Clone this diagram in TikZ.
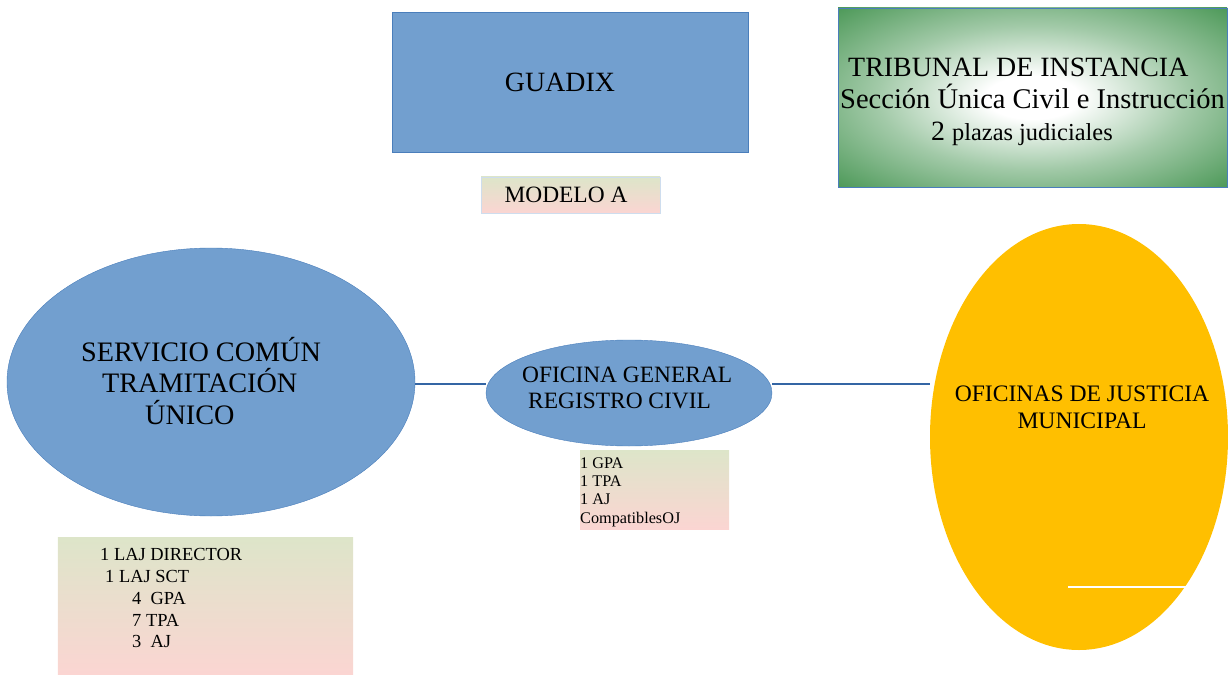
\documentclass[tikz,border=0pt]{standalone}
\usepackage{fontspec}
\setmainfont{Liberation Serif}
\usetikzlibrary{shapes.geometric}

\definecolor{azul}{HTML}{729FCF}
\definecolor{azulborde}{HTML}{4A7EBB}
\definecolor{linea}{HTML}{3465A4}
\definecolor{ambar}{HTML}{FFBF00}
\definecolor{verde}{HTML}{177A26}
\definecolor{verdoso}{HTML}{DDE5C9}
\definecolor{rosa}{HTML}{FBD5D2}

\pgfdeclareradialshading{tribunal}{\pgfpoint{0bp}{0bp}}{color(0bp)=(white); color(6bp)=(white); color(20bp)=(verde!40!white); color(36bp)=(verde!78!white); color(50bp)=(verde)}

\tikzset{
  caja/.style={draw=azulborde, fill=azul, minimum width=356bp, minimum height=140bp},
  nota/.style={top color=verdoso, bottom color=rosa},
  ovalo/.style={ellipse, draw=azulborde, fill=azul, inner sep=0pt},
  enlace/.style={draw=linea, line width=2bp},
  lista/.style={anchor=north west, inner sep=0pt, align=left}
}

\begin{document}
\begin{tikzpicture}[x=1bp,y=-1bp]

  \useasboundingbox (0,0) rectangle (1228,675);

  % cabecera
  \node[caja, font=\fontsize{28}{32}\selectfont] (guadix) at (570,82) {GUADIX\hspace*{20bp}};
  \node[nota, draw=azul!35, line width=0.6bp, minimum width=179bp, minimum height=36bp,
        font=\fontsize{23.5}{26}\selectfont] (modelo) at (570.5,195) {MODELO A\hspace*{9bp}};
  \node[shading=tribunal, draw=azulborde, line width=0.8bp,
        minimum width=389bp, minimum height=179bp] (tribunal) at (1032.5,97.5) {};
  \node[lista, font=\fontsize{28}{32.5}\selectfont] (tribunaltexto) at (840,57.5)
    {\hspace*{8bp}TRIBUNAL DE INSTANCIA\\
     {\fontsize{28.6}{33}\selectfont Sección Única Civil e Instrucción}\\
     \hspace*{91bp}2 {\fontsize{24.5}{33}\selectfont plazas judiciales}};

  % oficinas
  \node[ovalo, minimum width=408bp, minimum height=268bp] (sct) at (211,382) {};
  \node[lista, font=\fontsize{28.3}{31.5}\selectfont] (scttexto) at (81,337)
    {SERVICIO COMÚN\\ \hspace*{21bp}TRAMITACIÓN\\ \hspace*{64bp}ÚNICO};
  \node[ovalo, minimum width=286bp, minimum height=106bp] (ogrc) at (629,393) {};
  \node[lista, font=\fontsize{23.5}{26}\selectfont] (ogrctexto) at (522,367)
    {OFICINA GENERAL\\ \hspace*{6bp}REGISTRO CIVIL};
  \node[ellipse, fill=ambar, inner sep=0pt, minimum width=298bp, minimum height=426bp] (ojm) at (1079,437) {};
  \node[align=center, font=\fontsize{23.7}{27}\selectfont] (ojmtexto) at (1082,407)
    {OFICINAS DE JUSTICIA\\ MUNICIPAL};
  \draw[white, line width=1.5bp] (1068,587) -- (1190,587);

  \draw[enlace] ([yshift=-2bp]sct.east) -- ([yshift=-2bp]ogrc.west |- sct.east);
  \draw[enlace] ([yshift=-2bp]ogrc.east |- sct.east) -- ([yshift=-2bp]ojm.west |- sct.east);

  % plantillas
  \node[nota, minimum width=149bp, minimum height=79bp] (ogrcnota) at (654.5,489.5) {};
  \node[lista, font=\fontsize{16.3}{18.3}\selectfont] (ogrclista) at (580,457.5)
    {1 GPA\\ 1 TPA\\ 1 AJ\\ CompatiblesOJ};
  \node[nota, minimum width=295bp, minimum height=138bp] (sctnota) at (205.5,606) {};
  \node[lista, font=\fontsize{18.5}{21.8}\selectfont] (sctlista) at (100,548.5)
    {1 LAJ DIRECTOR\\ \hspace*{5bp}1 LAJ SCT\\ \hspace*{32bp}4\ \ GPA\\
     \hspace*{32bp}7 TPA\\ \hspace*{32bp}3\ \ AJ};

\end{tikzpicture}
\end{document}
